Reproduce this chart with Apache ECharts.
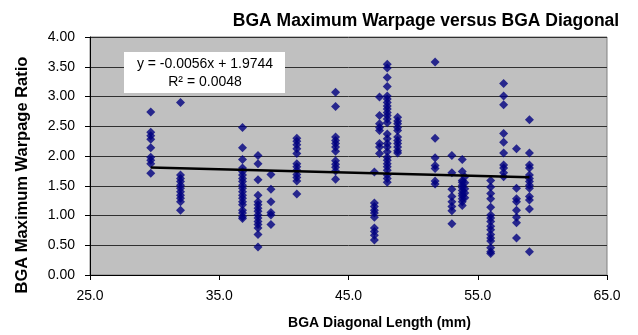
<!DOCTYPE html>
<html>
<head>
<meta charset="utf-8">
<script src="https://cdn.jsdelivr.net/npm/echarts@6/dist/echarts.min.js"></script>
<style>
html,body{margin:0;padding:0;background:#fff;}
#chart{width:638px;height:335px;}
</style>
</head>
<body>
<div id="chart"></div>
<script>
// BGA diagonal length (mm) for each group of measurements
const diagonalMm = [29.7, 32.0, 36.8, 38.0, 39.0, 41.0, 44.0, 47.0, 47.4, 48.0, 48.8, 51.7, 53.0, 53.8, 54.0, 56.0, 57.0, 58.0, 59.0];

// Maximum warpage ratio per group (same order as diagonalMm)
const w29_7 = [2.74, 2.40, 2.34, 2.28, 2.14, 1.98, 1.93, 1.87, 1.71];
const w32_0 = [2.90, 1.68, 1.62, 1.57, 1.51, 1.46, 1.40, 1.34, 1.29, 1.23, 1.09];
const w36_8 = [2.48, 2.14, 1.94, 1.80, 1.74, 1.68, 1.62, 1.57, 1.51, 1.46, 1.40, 1.34, 1.29, 1.23, 1.18, 1.09, 1.04, 0.98, 0.95];
const w38_0 = [2.01, 1.87, 1.60, 1.34, 1.23, 1.18, 1.12, 1.07, 1.01, 0.96, 0.90, 0.85, 0.79, 0.68, 0.47];
const w39_0 = [1.69, 1.44, 1.23, 1.05, 1.01, 0.85];
const w41_0 = [2.30, 2.25, 2.19, 2.12, 2.04, 1.87, 1.82, 1.76, 1.69, 1.64, 1.58, 1.36];
const w44_0 = [3.07, 2.83, 2.32, 2.26, 2.21, 2.15, 2.08, 1.92, 1.86, 1.81, 1.75, 1.61];
const w47_0 = [1.73, 1.21, 1.15, 1.09, 1.04, 0.97, 0.79, 0.73, 0.67, 0.59];
const w47_4 = [2.99, 2.68, 2.54, 2.48, 2.43, 2.21, 2.15, 2.04];
const w48_0 = [3.54, 3.48, 3.32, 3.17, 3.01, 2.96, 2.90, 2.84, 2.79, 2.73, 2.68, 2.62, 2.56, 2.37, 2.29, 2.21, 2.15, 2.07, 1.98, 1.93, 1.87, 1.82, 1.76, 1.68, 1.62, 1.56];
const w48_8 = [2.65, 2.59, 2.54, 2.48, 2.43, 2.32, 2.26, 2.21, 2.15, 2.09, 2.05];
const w51_7 = [3.58, 2.30, 1.97, 1.84, 1.79, 1.58, 1.53];
const w53_0 = [2.01, 1.72, 1.44, 1.32, 1.23, 1.15, 1.08, 0.86];
const w53_8 = [1.94, 1.74, 1.59, 1.56, 1.51, 1.47, 1.42, 1.37, 1.33, 1.28, 1.23, 1.17];
const w54_0 = [1.65, 1.55, 1.45, 1.38, 1.30];
const w56_0 = [1.59, 1.48, 1.37, 1.28, 1.14, 1.01, 0.96, 0.90, 0.82, 0.76, 0.68, 0.62, 0.57, 0.46, 0.39, 0.36];
const w57_0 = [3.22, 3.01, 2.86, 2.38, 2.23, 2.05, 1.85, 1.80, 1.72, 1.65];
const w58_0 = [2.12, 1.46, 1.28, 1.23, 1.09, 0.97, 0.88, 0.62];
const w59_0 = [2.61, 2.05, 1.85, 1.80, 1.68, 1.62, 1.57, 1.51, 1.46, 1.32, 1.26, 1.11, 0.39];

const warpageGroups = [w29_7, w32_0, w36_8, w38_0, w39_0, w41_0, w44_0, w47_0, w47_4, w48_0, w48_8, w51_7, w53_0, w53_8, w54_0, w56_0, w57_0, w58_0, w59_0];

// Linear trendline (from the chart's equation)
const trendSlope = -0.0056;
const trendIntercept = 1.9744;
const trendR2 = 0.0048;

// Axis ticks
const xTicks = [25, 35, 45, 55, 65];
const yTicks = [0, 0.5, 1, 1.5, 2, 2.5, 3, 3.5, 4];

const points = [];
diagonalMm.forEach((d, i) => warpageGroups[i].forEach(v => points.push([d, v])));
const xMin = Math.min(...diagonalMm), xMax = Math.max(...diagonalMm);
const trendData = [[xMin, trendSlope * xMin + trendIntercept], [xMax, trendSlope * xMax + trendIntercept]];

const FONT = "'Liberation Sans', Arial, sans-serif";
const chart = echarts.init(document.getElementById('chart'), null, {renderer: 'canvas'});
chart.setOption({
  animation: false,
  backgroundColor: '#ffffff',
  title: {
    text: 'BGA Maximum Warpage versus BGA Diagonal',
    left: 421, top: 7, textAlign: 'center',
    textStyle: {fontFamily: FONT, fontSize: 17.5, fontWeight: 'bold', color: '#000'}
  },
  grid: {
    left: 90, right: 31, top: 37, bottom: 58,
    show: true, backgroundColor: '#c0c0c0', borderColor: '#808080', borderWidth: 1
  },
  xAxis: {
    type: 'value', min: xTicks[0], max: xTicks[xTicks.length - 1], interval: xTicks[1] - xTicks[0],
    name: 'BGA Diagonal Length (mm)', nameLocation: 'middle', nameGap: 41,
    nameTextStyle: {fontFamily: FONT, fontSize: 14, fontWeight: 'bold', color: '#000', padding: [0, 0, 0, 62]},
    axisLine: {show: true, onZero: false, lineStyle: {color: '#000', width: 1}},
    axisTick: {show: true, inside: false, length: 5, lineStyle: {color: '#000'}},
    axisLabel: {fontFamily: FONT, fontSize: 14, color: '#000', margin: 14, formatter: v => v.toFixed(1)},
    splitLine: {show: false}
  },
  yAxis: {
    type: 'value', min: yTicks[0], max: yTicks[yTicks.length - 1], interval: yTicks[1] - yTicks[0],
    axisLine: {show: true, onZero: false, lineStyle: {color: '#000', width: 1}},
    axisTick: {show: true, inside: false, length: 5, lineStyle: {color: '#000'}},
    axisLabel: {fontFamily: FONT, fontSize: 14, color: '#000', margin: 15, formatter: v => v.toFixed(2)},
    splitLine: {show: true, lineStyle: {color: '#303030', width: 1}}
  },
  series: [
    {
      type: 'scatter', data: points, symbol: 'diamond', symbolSize: [9, 9],
      itemStyle: {color: '#000080'}, z: 3
    },
    {
      type: 'line', data: trendData, symbol: 'none',
      lineStyle: {color: '#000', width: 2.5}, z: 4
    }
  ],
  graphic: [
    {type: 'text', x: 22, y: 175, rotation: Math.PI / 2, z: 11,
     style: {text: 'BGA Maximum Warpage Ratio', fontFamily: FONT, fontSize: 16.5, fontWeight: 'bold', fill: '#000',
             align: 'center', verticalAlign: 'middle'}},
    {type: 'rect', left: 124, top: 52, shape: {width: 161, height: 41}, style: {fill: '#fff'}, z: 10},
    {type: 'text', x: 205, y: 73, z: 11,
     style: {text: 'y = ' + trendSlope.toFixed(4) + 'x + ' + trendIntercept.toFixed(4) + '\nR² = ' + trendR2.toFixed(4),
             fontFamily: FONT, fontSize: 14, fill: '#000', lineHeight: 18, align: 'center', verticalAlign: 'middle'}}
  ]
});
</script>
</body>
</html>
